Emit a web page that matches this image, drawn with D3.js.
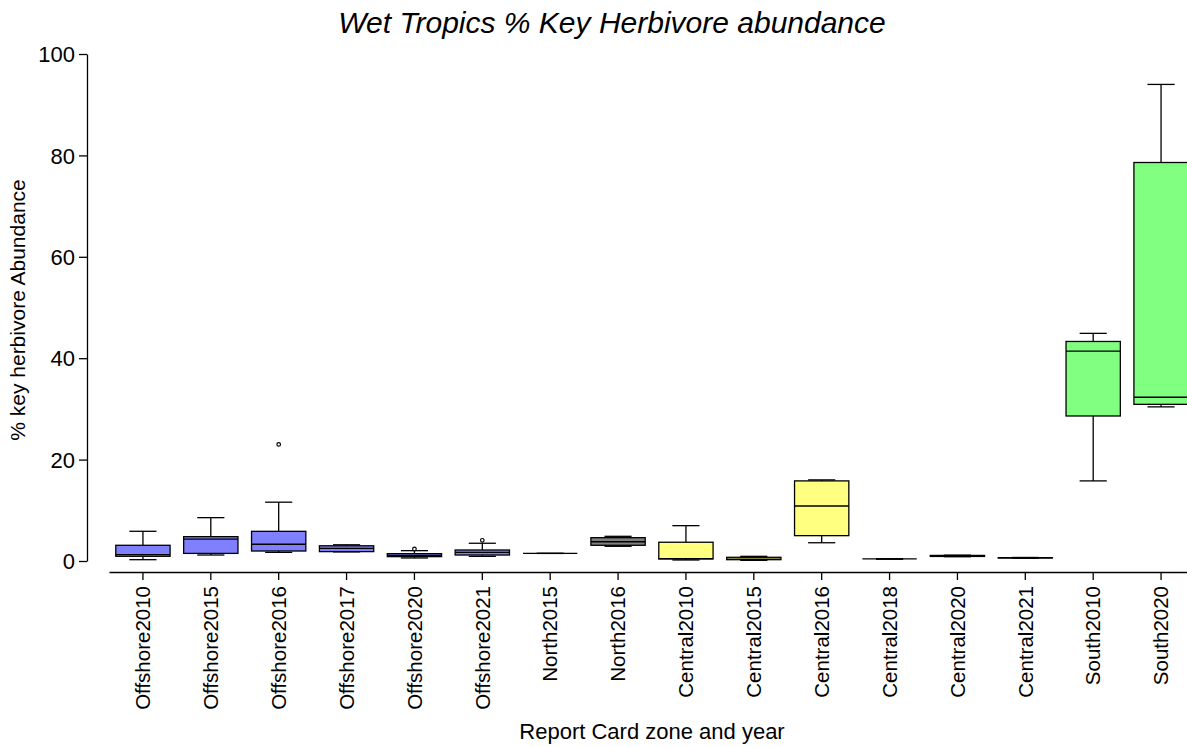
<!DOCTYPE html>
<html>
<head>
<meta charset="utf-8">
<script src="https://cdn.jsdelivr.net/npm/d3@7"></script>
<style>
  body { margin: 0; background: #fff; }
  text { font-family: "Liberation Sans", Arial, sans-serif; fill: #000; }
</style>
</head>
<body>
<div id="chart"></div>
<script>
// Box plot summaries
const categories = ["Offshore2010", "Offshore2015", "Offshore2016", "Offshore2017", "Offshore2020", "Offshore2021",
  "North2015", "North2016", "Central2010", "Central2015", "Central2016", "Central2018", "Central2020", "Central2021",
  "South2010", "South2020"];
const zones = ["Offshore", "Offshore", "Offshore", "Offshore", "Offshore", "Offshore",
  "North", "North", "Central", "Central", "Central", "Central", "Central", "Central", "South", "South"];
const whiskerLow  = [0.26, 1.18, 1.7, 1.8, 0.6, 0.92, 1.5, 2.9, 0.2, 0.13, 3.6, 0.35, 0.85, 0.55, 15.8, 30.4];
const q1          = [0.93, 1.5, 1.97, 1.85, 0.86, 1.18, 1.5, 3.1, 0.4, 0.26, 5.0, 0.4, 0.9, 0.6, 28.6, 30.9];
const median      = [1.25, 4.3, 3.3, 2.5, 1.1, 1.7, 1.5, 3.8, 0.45, 0.35, 10.85, 0.4, 1.0, 0.6, 41.4, 32.3];
const q3          = [3.1, 4.8, 5.85, 3.0, 1.45, 2.17, 1.5, 4.6, 3.7, 0.73, 15.8, 0.4, 1.1, 0.65, 43.3, 78.6];
const whiskerHigh = [5.86, 8.55, 11.6, 3.2, 2.04, 3.5, 1.5, 4.87, 6.97, 0.92, 16.0, 0.45, 1.15, 0.7, 44.9, 94.0];
const outliers    = [[], [], [23.0], [], [2.37], [4.08], [], [], [], [], [], [], [], [], [], []];
const yTicks = [0, 20, 40, 60, 80, 100];

const zoneColors = {
  Offshore: "#8080ff",
  North: "#808080",
  Central: "#ffff80",
  South: "#80ff80"
};

const W = 1187, H = 747;

const svg = d3.select("#chart")
  .append("svg")
  .attr("width", W)
  .attr("height", H);

const data = categories.map((c, i) => ({
  cat: c, zone: zones[i],
  lo: whiskerLow[i], q1: q1[i], med: median[i], q3: q3[i], hi: whiskerHigh[i],
  out: outliers[i]
}));

// Scales
const x = d3.scaleBand()
  .domain(categories)
  .range([109, 1195])
  .paddingInner(0)
  .paddingOuter(0);

const y = d3.scaleLinear()
  .domain([0, 100])
  .range([561, 54]);

const boxW = x.bandwidth() * 0.8;
const capW = boxW / 2;

// Y axis (offset from the x axis)
const yAxis = svg.append("g")
  .attr("transform", "translate(87,0)")
  .call(d3.axisLeft(y).tickValues(yTicks).tickSize(8).tickSizeOuter(0).tickPadding(4));
yAxis.select(".domain").attr("stroke", "#000").attr("stroke-width", 1.3);
yAxis.selectAll(".tick line").attr("stroke", "#000").attr("stroke-width", 1.3);
yAxis.selectAll("text").style("font-size", "22px").attr("dy", "0.35em");

// X axis
const xAxis = svg.append("g")
  .attr("transform", "translate(0,572)")
  .call(d3.axisBottom(x).tickSize(8).tickSizeOuter(0).tickPadding(6));
xAxis.select(".domain").attr("stroke", "#000").attr("stroke-width", 1.3);
xAxis.selectAll(".tick line").attr("stroke", "#000").attr("stroke-width", 1.3);
xAxis.selectAll("text")
  .style("font-size", "20.5px")
  .attr("text-anchor", "end")
  .attr("transform", "rotate(-90)")
  .attr("x", -14)
  .attr("y", 0)
  .attr("dy", "0.35em");

// Boxes
const g = svg.append("g");
const boxes = g.selectAll(".box")
  .data(data)
  .join("g")
  .attr("class", "box")
  .attr("transform", d => `translate(${x(d.cat) + x.bandwidth() / 2},0)`);

// whisker stems
boxes.append("line")
  .attr("x1", 0).attr("x2", 0)
  .attr("y1", d => y(d.hi)).attr("y2", d => y(d.q3))
  .attr("stroke", "#000").attr("stroke-width", 1.3);
boxes.append("line")
  .attr("x1", 0).attr("x2", 0)
  .attr("y1", d => y(d.lo)).attr("y2", d => y(d.q1))
  .attr("stroke", "#000").attr("stroke-width", 1.3);

// caps
boxes.append("line")
  .attr("x1", -capW / 2).attr("x2", capW / 2)
  .attr("y1", d => y(d.hi)).attr("y2", d => y(d.hi))
  .attr("stroke", "#000").attr("stroke-width", 1.3);
boxes.append("line")
  .attr("x1", -capW / 2).attr("x2", capW / 2)
  .attr("y1", d => y(d.lo)).attr("y2", d => y(d.lo))
  .attr("stroke", "#000").attr("stroke-width", 1.3);

// box body
boxes.append("rect")
  .attr("x", -boxW / 2)
  .attr("width", boxW)
  .attr("y", d => y(d.q3))
  .attr("height", d => Math.max(0, y(d.q1) - y(d.q3)))
  .attr("fill", d => zoneColors[d.zone])
  .attr("stroke", "#000")
  .attr("stroke-width", 1.3);

// median
boxes.append("line")
  .attr("x1", -boxW / 2).attr("x2", boxW / 2)
  .attr("y1", d => y(d.med)).attr("y2", d => y(d.med))
  .attr("stroke", "#000").attr("stroke-width", 1.3);

// outliers
boxes.selectAll(".outlier")
  .data(d => d.out)
  .join("circle")
  .attr("class", "outlier")
  .attr("cx", 0)
  .attr("cy", v => y(v))
  .attr("r", 1.8)
  .attr("fill", "#fff")
  .attr("stroke", "#000")
  .attr("stroke-width", 1.2);

// Title and axis labels
svg.append("text")
  .attr("x", 612)
  .attr("y", 33)
  .attr("text-anchor", "middle")
  .style("font-size", "30px")
  .style("font-style", "italic")
  .text("Wet Tropics % Key Herbivore abundance");

svg.append("text")
  .attr("transform", "translate(25,310) rotate(-90)")
  .attr("text-anchor", "middle")
  .style("font-size", "21px")
  .text("% key herbivore Abundance");

svg.append("text")
  .attr("x", 652)
  .attr("y", 739)
  .attr("text-anchor", "middle")
  .style("font-size", "22px")
  .text("Report Card zone and year");
</script>
</body>
</html>
